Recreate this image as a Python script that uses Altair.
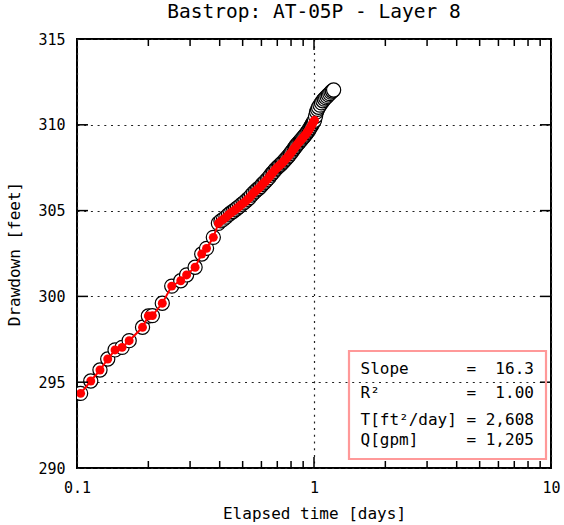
import altair as alt
import pandas as pd

FONT = "DejaVu Sans Mono"

# ---- data ----
t_days = [0.1036, 0.1143, 0.125, 0.1348, 0.1447, 0.155, 0.166, 0.189, 0.200, 0.208,
          0.229, 0.251, 0.274, 0.290, 0.315, 0.336, 0.352, 0.376,
          0.395, 0.405, 0.415, 0.425, 0.435, 0.445, 0.455, 0.465, 0.475, 0.485,
          0.495, 0.505, 0.515, 0.525, 0.535, 0.545, 0.555, 0.565, 0.575, 0.585,
          0.595, 0.605, 0.615, 0.625, 0.635, 0.645, 0.655, 0.665, 0.675, 0.685,
          0.695, 0.705, 0.715, 0.725, 0.735, 0.745, 0.755, 0.765, 0.775, 0.785,
          0.795, 0.805, 0.815, 0.825, 0.835, 0.845, 0.855, 0.865, 0.875, 0.885,
          0.895, 0.905, 0.915, 0.925, 0.935, 0.945, 0.955, 0.965, 0.975, 0.985,
          0.995, 1.005,
          1.015, 1.025, 1.035, 1.045, 1.06, 1.075, 1.09, 1.105, 1.12, 1.135,
          1.15, 1.165, 1.18, 1.195, 1.21]
drawdown = [294.35, 295.07, 295.71, 296.35, 296.88, 297.03, 297.42, 298.20, 298.86, 298.88,
            299.60, 300.60, 300.91, 301.25, 301.70, 302.47, 302.80, 303.44,
            304.26, 304.40, 304.50, 304.62, 304.75, 304.86, 304.95, 305.05, 305.15, 305.25,
            305.36, 305.45, 305.55, 305.66, 305.76, 305.90, 306.02, 306.12, 306.22, 306.30,
            306.40, 306.52, 306.62, 306.72, 306.82, 306.92, 307.05, 307.16, 307.26, 307.37,
            307.46, 307.55, 307.62, 307.70, 307.78, 307.87, 307.96, 308.04, 308.13, 308.22,
            308.32, 308.42, 308.52, 308.62, 308.72, 308.82, 308.90, 308.98, 309.06, 309.14,
            309.22, 309.30, 309.38, 309.46, 309.55, 309.64, 309.74, 309.84, 309.95, 310.06,
            310.17, 310.26,
            310.50, 310.75, 310.90, 311.02, 311.15, 311.28, 311.40, 311.50, 311.58, 311.66,
            311.74, 311.82, 311.90, 311.97, 312.03]
fit_end_day = 1.005  # red (fitted) points up to here

x_major = [0.1, 1, 10]
x_minor = [0.2, 0.3, 0.4, 0.5, 0.6, 0.7, 0.8, 0.9, 2, 3, 4, 5, 6, 7, 8, 9]
y_major = [290, 295, 300, 305, 310, 315]

box_lines = ["Slope      =  16.3",
             "R²         =  1.00",
             "T[ft²/day] = 2,608",
             "Q[gpm]     = 1,205"]

W, H = 474, 429

df = pd.DataFrame({"t": t_days, "s": drawdown})
df_fit = df[df["t"] <= fit_end_day]

xs = alt.Scale(type="log", domain=[0.1, 10], nice=False)
ys = alt.Scale(domain=[290, 315], nice=False, zero=False)

grid_kw = dict(grid=True, gridDash=[2, 4.7], gridColor="#222222", gridWidth=1.2,
               ticks=False, tickSize=0, domain=False, labelFont=FONT, labelFontSize=15,
               labelColor="black", titleFont=FONT, titleFontSize=16, titleFontWeight="normal",
               titleColor="black", labelFlush=False, labelOverlap=False)

xaxis = alt.Axis(values=x_major, format="~g", labelPadding=12,
                 title="Elapsed time [days]", titleY=45, titleBaseline="middle", **grid_kw)
yaxis = alt.Axis(values=y_major, labelPadding=12,
                 title="Drawdown [feet]", titleX=-63, titleBaseline="middle", **grid_kw)


def X(field):
    return alt.X(field, scale=xs, axis=xaxis, title="Elapsed time [days]")


def Y(field):
    return alt.Y(field, scale=ys, axis=yaxis, title="Drawdown [feet]")


circles = alt.Chart(df).mark_circle(
    size=200, fill="white", stroke="black", strokeWidth=1.2, opacity=1, fillOpacity=1, clip=True
).encode(x=X("t:Q"), y=Y("s:Q"))

red_line = alt.Chart(df_fit).mark_line(color="red", strokeWidth=2, clip=True).encode(
    x=X("t:Q"), y=Y("s:Q"))

red_dots = alt.Chart(df_fit).mark_circle(size=80, color="red", opacity=1, clip=True).encode(
    x=X("t:Q"), y=Y("s:Q"))


def xticks(vals, y0, y1):
    return alt.Chart(pd.DataFrame({"t": vals})).mark_rule(color="black", strokeWidth=1.5).encode(
        x=X("t:Q"), y=alt.value(y0), y2=alt.value(y1))


def yticks(vals, x0, x1):
    return alt.Chart(pd.DataFrame({"s": vals})).mark_rule(color="black", strokeWidth=1.5).encode(
        y=Y("s:Q"), x=alt.value(x0), x2=alt.value(x1))


tick_layers = [
    xticks([1], H, H - 11), xticks(x_minor, H, H - 7),
    xticks([1], 0, 11), xticks(x_minor, 0, 7),
    yticks(y_major[1:-1], 0, 11), yticks(y_major[1:-1], W, W - 11),
]

one = pd.DataFrame({"a": [0]})
box = alt.Chart(one).mark_rect(fillOpacity=0, stroke="#ff9999", strokeWidth=2.2).encode(
    x=alt.value(272), x2=alt.value(469), y=alt.value(312), y2=alt.value(420))

line_y = [330, 354, 381, 401]
texts = [
    alt.Chart(one).mark_text(text=txt.replace(" ", "\u00a0"), font=FONT, fontSize=16,
                             align="left", baseline="middle", color="black").encode(
        x=alt.value(283.5), y=alt.value(yy))
    for txt, yy in zip(box_lines, line_y)
]

chart = alt.layer(circles, red_line, red_dots, *tick_layers, box, *texts).properties(
    width=W, height=H,
    title=alt.TitleParams("Bastrop: AT-05P - Layer 8", font=FONT, fontSize=19.5,
                          fontWeight="normal", color="black", offset=10),
    autosize=alt.AutoSizeParams(type="none"),
    padding={"left": 77, "top": 39, "right": 13, "bottom": 57},
).configure(background="white").configure_view(stroke="black", strokeWidth=2)

chart.save("out.html", embed_options={"renderer": "svg", "actions": False})
